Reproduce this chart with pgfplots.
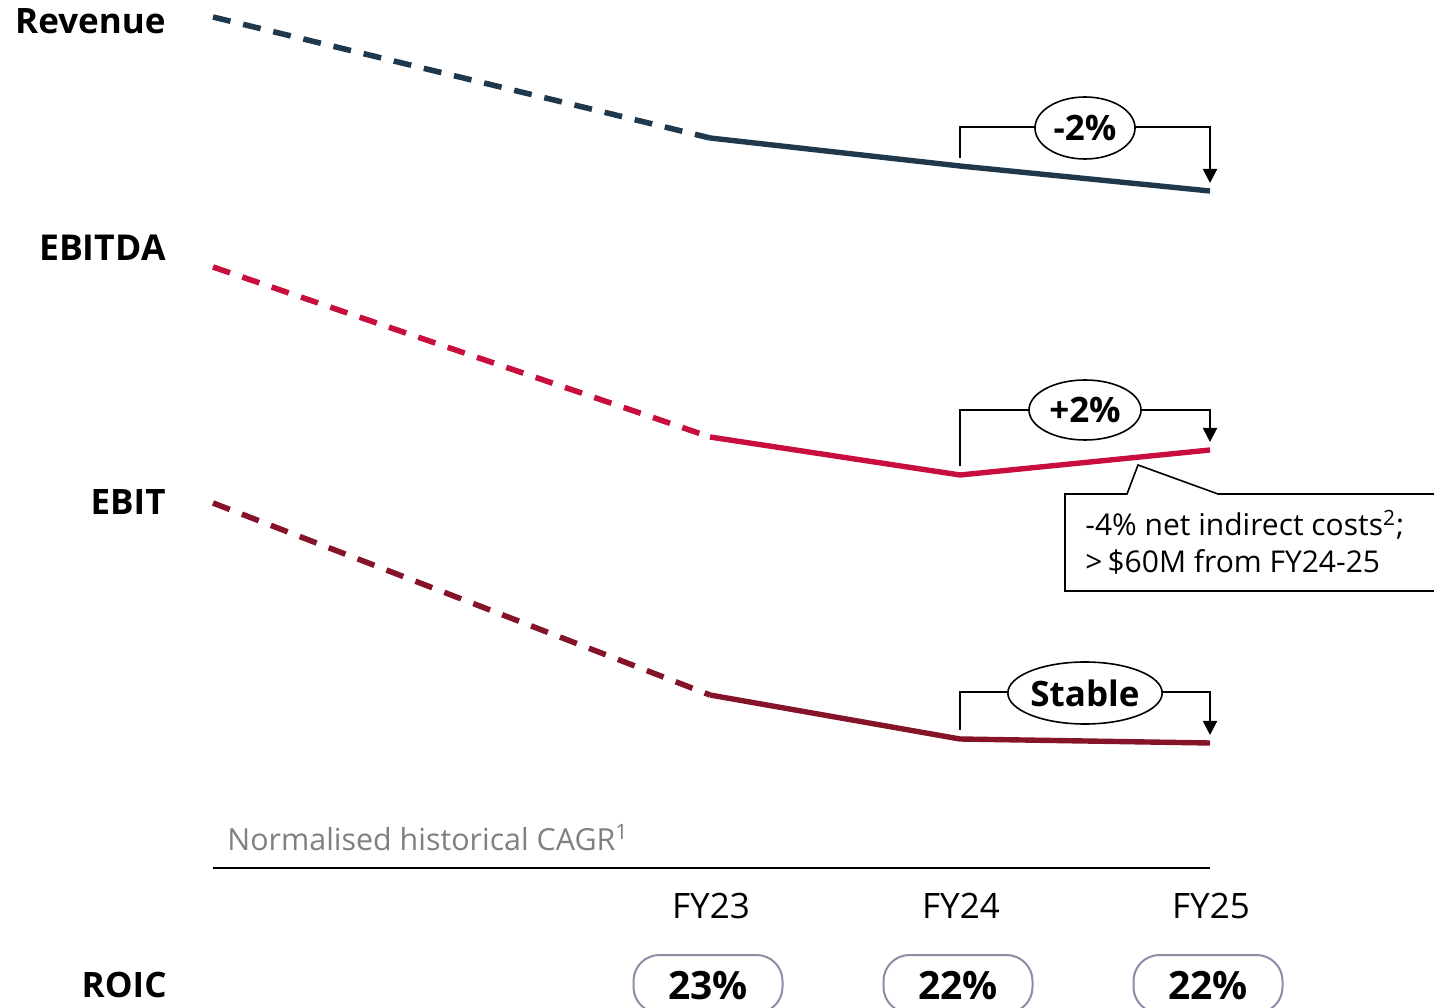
\documentclass[border=0pt]{standalone}
\usepackage{pgfplots}
\pgfplotsset{compat=1.18}
\usepackage{fontspec}
\setmainfont{Open Sans}
\usetikzlibrary{shapes.geometric,arrows.meta}
\definecolor{rev}{RGB}{31,56,76}
\definecolor{ebitda}{RGB}{200,14,60}
\definecolor{ebit}{RGB}{134,20,41}
\definecolor{gtext}{RGB}{128,128,128}
\definecolor{pill}{RGB}{138,142,165}
\newcommand{\fs}[1]{\fontsize{#1}{#1}\selectfont}
\begin{document}
\begin{tikzpicture}
\begin{axis}[hide axis, scale only axis, width=717pt, height=503.5pt,
  xmin=0, xmax=1434, ymin=-1007, ymax=0, clip=false]
% Revenue
\addplot[rev, line width=2.8pt, dash pattern=on 9pt off 6.5pt] coordinates {(213,-17) (710,-138)};
\addplot[rev, line width=2.7pt] coordinates {(710,-138) (960,-166) (1210,-191)};
% EBITDA
\addplot[ebitda, line width=2.8pt, dash pattern=on 9pt off 6.5pt] coordinates {(213,-267) (710,-437)};
\addplot[ebitda, line width=2.7pt] coordinates {(710,-437) (960,-475) (1210,-450)};
% EBIT
\addplot[ebit, line width=2.8pt, dash pattern=on 9pt off 6.5pt] coordinates {(213,-503) (710,-695)};
\addplot[ebit, line width=2.7pt] coordinates {(710,-695) (960,-739) (1210,-743)};

% row labels
\node[anchor=base east, inner sep=0pt, font=\fs{17.5}\bfseries] at (axis cs:166,-34) {Revenue};
\node[anchor=base east, inner sep=0pt, font=\fs{17.8}\bfseries] at (axis cs:166,-261) {EBITDA};
\node[anchor=base east, inner sep=0pt, font=\fs{17.5}\bfseries] at (axis cs:166,-515) {EBIT};
\node[anchor=base east, inner sep=0pt, font=\fs{17.5}\bfseries] at (axis cs:167,-997) {ROIC};

% brackets
\draw[line width=1pt, -{Triangle[width=7pt,length=7pt]}] (axis cs:960,-158) |- (axis cs:1210,-127) -- (axis cs:1210,-183);
\node[ellipse, draw, line width=0.8pt, fill=white, minimum width=50pt, minimum height=31pt, inner sep=0pt, font=\fs{17.5}\bfseries] at (axis cs:1085,-128) {-2\%};
\draw[line width=1pt, -{Triangle[width=7pt,length=7pt]}] (axis cs:960,-466) |- (axis cs:1210,-410) -- (axis cs:1210,-442);
\node[ellipse, draw, line width=0.8pt, fill=white, minimum width=56pt, minimum height=30pt, inner sep=0pt, font=\fs{17.5}\bfseries] at (axis cs:1085,-410) {+2\%};
\draw[line width=1pt, -{Triangle[width=7pt,length=7pt]}] (axis cs:960,-730) |- (axis cs:1210,-692) -- (axis cs:1210,-735);
\node[ellipse, draw, line width=0.8pt, fill=white, minimum width=77pt, minimum height=31pt, inner sep=0pt, font=\fs{17.5}\bfseries] at (axis cs:1085,-693) {Stable};

% callout
\draw[line width=0.8pt, fill=white] (axis cs:1065,-494) -- (axis cs:1127,-494) -- (axis cs:1138,-465) -- (axis cs:1218,-494) -- (axis cs:1445,-494) -- (axis cs:1445,-591) -- (axis cs:1065,-591) -- cycle;
\node[anchor=base west, inner sep=0pt, font=\fs{15}] at (axis cs:1085,-536) {-4\% net indirect costs\textsuperscript{2};};
\node[anchor=base west, inner sep=0pt, font=\fs{15}] at (axis cs:1085,-573) {>\,\$60M from FY24-25};

% axis line and labels
\draw[line width=1pt] (axis cs:213,-868) -- (axis cs:1210,-868);
\node[anchor=base west, inner sep=0pt, font=\fs{15.2}, text=gtext] at (axis cs:227,-850) {Normalised historical CAGR\textsuperscript{1}};
\node[anchor=base, font=\fs{17.5}] at (axis cs:711,-918) {FY23};
\node[anchor=base, font=\fs{17.5}] at (axis cs:961,-918) {FY24};
\node[anchor=base, font=\fs{17.5}] at (axis cs:1211,-918) {FY25};

% ROIC pills
\node[draw=pill, line width=1pt, rounded corners=13pt, minimum width=74.5pt, minimum height=29pt] at (axis cs:708,-984) {};
\node[draw=pill, line width=1pt, rounded corners=13pt, minimum width=74.5pt, minimum height=29pt] at (axis cs:958,-984) {};
\node[draw=pill, line width=1pt, rounded corners=13pt, minimum width=74.5pt, minimum height=29pt] at (axis cs:1208,-984) {};
\node[anchor=base, font=\fs{19.5}\bfseries] at (axis cs:708,-999) {23\%};
\node[anchor=base, font=\fs{19.5}\bfseries] at (axis cs:958,-999) {22\%};
\node[anchor=base, font=\fs{19.5}\bfseries] at (axis cs:1208,-999) {22\%};
\end{axis}
\pgfresetboundingbox
\path[use as bounding box] (current axis.south west) rectangle (current axis.north east);
\end{tikzpicture}
\end{document}
